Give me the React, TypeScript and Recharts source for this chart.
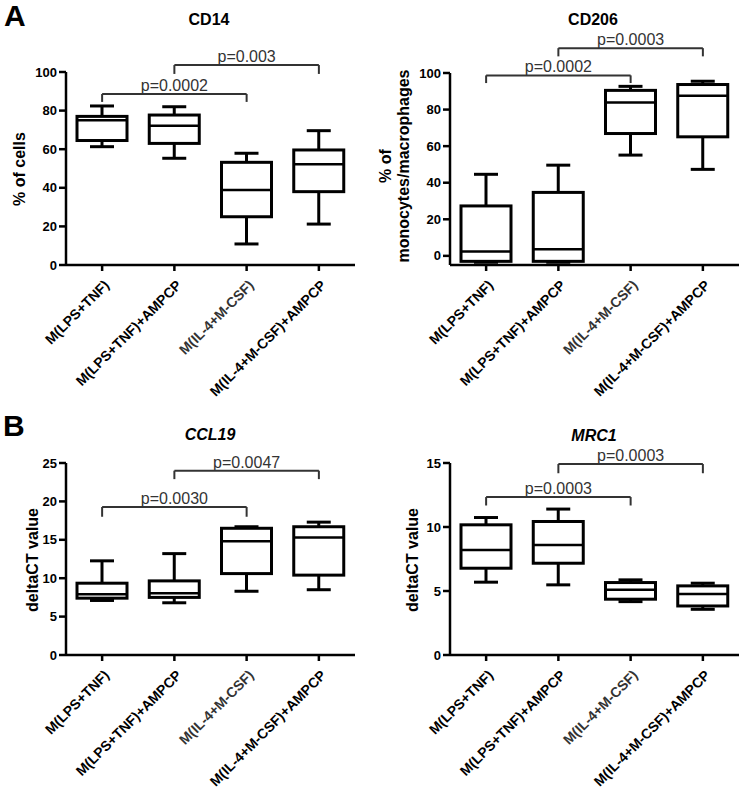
import React from "react";
import { ComposedChart, Bar, XAxis, YAxis, ReferenceLine } from "recharts";

const groups = ["M(LPS+TNF)", "M(LPS+TNF)+AMPCP", "M(IL-4+M-CSF)", "M(IL-4+M-CSF)+AMPCP"];

// CD14, % of cells
const cd14Min = [61.3, 55.3, 10.9, 21.2];
const cd14Q1 = [64.5, 63, 25, 38];
const cd14Med = [75, 72.2, 38.9, 52.2];
const cd14Q3 = [77, 77.7, 53.2, 59.6];
const cd14Max = [82.4, 82, 57.9, 69.6];

// CD206, % of monocytes/macrophages
const cd206Min = [-3.5, -3.5, 55.1, 47.3];
const cd206Q1 = [-3, -3, 66.9, 65.1];
const cd206Med = [2.4, 3.6, 83.8, 87.5];
const cd206Q3 = [27.3, 34.7, 90.5, 93.7];
const cd206Max = [44.6, 49.6, 92.7, 95.5];

// CCL19, deltaCT
const ccl19Min = [7.1, 6.8, 8.3, 8.5];
const ccl19Q1 = [7.4, 7.5, 10.6, 10.4];
const ccl19Med = [7.9, 8.05, 14.8, 15.3];
const ccl19Q3 = [9.35, 9.65, 16.5, 16.7];
const ccl19Max = [12.26, 13.2, 16.7, 17.3];

// MRC1, deltaCT
const mrc1Min = [5.69, 5.48, 4.17, 3.57];
const mrc1Q1 = [6.78, 7.17, 4.36, 3.83];
const mrc1Med = [8.2, 8.6, 5.09, 4.77];
const mrc1Q3 = [10.17, 10.43, 5.66, 5.4];
const mrc1Max = [10.74, 11.4, 5.87, 5.61];

// significance brackets: groups compared, bar height, leg end, label
const cd14Brackets = [
  { from: 0, to: 2, y: 88.6, leg: 84.5, text: "p=0.0002" },
  { from: 1, to: 3, y: 103.6, leg: 99, text: "p=0.003" },
];
const cd206Brackets = [
  { from: 0, to: 2, y: 98.7, leg: 94.5, text: "p=0.0002" },
  { from: 1, to: 3, y: 113.6, leg: 109.1, text: "p=0.0003" },
];
const ccl19Brackets = [
  { from: 0, to: 2, y: 19.27, leg: 18.0, text: "p=0.0030" },
  { from: 1, to: 3, y: 24.0, leg: 22.9, text: "p=0.0047" },
];
const mrc1Brackets = [
  { from: 0, to: 2, y: 12.34, leg: 11.68, text: "p=0.0003" },
  { from: 1, to: 3, y: 14.92, leg: 14.2, text: "p=0.0003" },
];

const FONT = "'Liberation Sans', Arial, sans-serif";

type Bracket = { from: number; to: number; y: number; leg: number; text: string };

function rows(min: number[], q1: number[], med: number[], q3: number[], max: number[]) {
  return groups.map((name, i) => ({
    name, min: min[i], q1: q1[i], med: med[i], q3: q3[i], max: max[i],
    range: [min[i], max[i]],
  }));
}

// whisker-to-whisker bar; inner marks placed along the bar's own pixel span
function BoxShape(props: any) {
  const { x, y, width, height, payload } = props;
  const top = Math.min(y, y + height), bot = Math.max(y, y + height);
  const span = payload.max - payload.min || 1;
  const py = (v: number) => bot - ((v - payload.min) / span) * (bot - top);
  const cx = x + width / 2;
  const cap = width * 0.24;
  const s = { stroke: "#000", strokeWidth: 3 };
  return (
    <g>
      <line x1={cx} x2={cx} y1={py(payload.max)} y2={py(payload.q3)} {...s} />
      <line x1={cx} x2={cx} y1={py(payload.q1)} y2={py(payload.min)} {...s} />
      <line x1={cx - cap} x2={cx + cap} y1={py(payload.max)} y2={py(payload.max)} {...s} />
      <line x1={cx - cap} x2={cx + cap} y1={py(payload.min)} y2={py(payload.min)} {...s} />
      <rect x={x} y={py(payload.q3)} width={width} height={py(payload.q1) - py(payload.q3)}
        fill="#fff" {...s} />
      <line x1={x} x2={x + width} y1={py(payload.med)} y2={py(payload.med)} stroke="#000" strokeWidth={2.5} />
    </g>
  );
}

function GroupTick({ x, y, payload, index }: any) {
  return (
    <g transform={`translate(${x + 1},${y + 6})`}>
      <text transform="rotate(-45)" textAnchor="end" dy="0.71em" fontSize={14}
        fontFamily={FONT} fontWeight="bold" fill={index === 2 ? "#333" : "#000"}>
        {payload.value}
      </text>
    </g>
  );
}

function Panel({ data, brackets, domain, ticks, yWidth, margin, width, height }: {
  data: any[]; brackets: Bracket[]; domain: [number, number]; ticks: number[];
  yWidth: number; margin: any; width: number; height: number;
}) {
  const line = { stroke: "#333", strokeWidth: 2 };
  return (
    <ComposedChart width={width} height={height} data={data} margin={margin}>
      <XAxis dataKey="name" type="category" height={120} interval={0} tick={<GroupTick />}
        axisLine={{ stroke: "#000", strokeWidth: 2.5 }} tickLine={{ stroke: "#000", strokeWidth: 2.5 }}
        tickSize={6} />
      <YAxis width={yWidth} domain={domain} ticks={ticks} allowDataOverflow
        axisLine={{ stroke: "#000", strokeWidth: 2.5 }} tickLine={{ stroke: "#000", strokeWidth: 2.5 }}
        tickSize={7} tickMargin={2}
        tick={{ fontSize: 13, fontWeight: "bold", fill: "#000", fontFamily: FONT }} />
      <Bar dataKey="range" barSize={50} shape={<BoxShape />} isAnimationActive={false} />
      {brackets.map((b, i) => (
        <React.Fragment key={i}>
          <ReferenceLine ifOverflow="visible" {...line}
            segment={[{ x: groups[b.from], y: b.y }, { x: groups[b.to], y: b.y }]}
            label={{ value: b.text, position: "top", offset: 3, fontSize: 16, fill: "#333", fontFamily: FONT }} />
          <ReferenceLine ifOverflow="visible" {...line}
            segment={[{ x: groups[b.from], y: b.y }, { x: groups[b.from], y: b.leg }]} />
          <ReferenceLine ifOverflow="visible" {...line}
            segment={[{ x: groups[b.to], y: b.y }, { x: groups[b.to], y: b.leg }]} />
        </React.Fragment>
      ))}
    </ComposedChart>
  );
}

const abs = (left: number, top: number): React.CSSProperties => ({ position: "absolute", left, top });

function Title({ x, y, text, italic }: { x: number; y: number; text: string; italic?: boolean }) {
  return (
    <div style={{ ...abs(x - 100, y - 10), width: 200, textAlign: "center", fontSize: 16,
      fontWeight: "bold", fontStyle: italic ? "italic" : "normal", lineHeight: "20px" }}>{text}</div>
  );
}

function YLabel({ x, y, lines }: { x: number; y: number; lines: string[] }) {
  return (
    <div style={{ ...abs(x - 150, y - lines.length * 9), width: 300, textAlign: "center",
      transform: "rotate(-90deg)", fontSize: 16, fontWeight: "bold", lineHeight: "18px" }}>
      {lines.map((l, i) => <div key={i}>{l}</div>)}
    </div>
  );
}

export default function App() {
  const cd14 = rows(cd14Min, cd14Q1, cd14Med, cd14Q3, cd14Max);
  const cd206 = rows(cd206Min, cd206Q1, cd206Med, cd206Q3, cd206Max);
  const ccl19 = rows(ccl19Min, ccl19Q1, ccl19Med, ccl19Q3, ccl19Max);
  const mrc1 = rows(mrc1Min, mrc1Q1, mrc1Med, mrc1Q3, mrc1Max);
  return (
    <div style={{ position: "absolute", left: 0, top: 0, width: 743, height: 789, background: "#fff",
      fontFamily: FONT, color: "#000", overflow: "hidden" }}>
      <div style={abs(0, 0)}>
        <Panel data={cd14} brackets={cd14Brackets} domain={[0, 100]} ticks={[0, 20, 40, 60, 80, 100]}
          yWidth={66} width={370} height={400} margin={{ top: 72, right: 15, bottom: 15, left: 0 }} />
      </div>
      <div style={abs(370, 0)}>
        <Panel data={cd206} brackets={cd206Brackets} domain={[-5, 100]} ticks={[0, 20, 40, 60, 80, 100]}
          yWidth={80} width={373} height={400} margin={{ top: 73, right: 4, bottom: 15, left: 0 }} />
      </div>
      <div style={abs(0, 400)}>
        <Panel data={ccl19} brackets={ccl19Brackets} domain={[0, 25]} ticks={[0, 5, 10, 15, 20, 25]}
          yWidth={66} width={370} height={389} margin={{ top: 63, right: 15, bottom: 14, left: 0 }} />
      </div>
      <div style={abs(370, 400)}>
        <Panel data={mrc1} brackets={mrc1Brackets} domain={[0, 15]} ticks={[0, 5, 10, 15]}
          yWidth={80} width={373} height={389} margin={{ top: 63, right: 4, bottom: 14, left: 0 }} />
      </div>

      <div style={{ ...abs(4, 1), fontSize: 30, lineHeight: "30px", fontWeight: "bold" }}>A</div>
      <div style={{ ...abs(3, 411), fontSize: 30, lineHeight: "30px", fontWeight: "bold" }}>B</div>

      <Title x={209} y={20} text="CD14" />
      <Title x={593} y={20} text="CD206" />
      <Title x={210} y={435} text="CCL19" italic />
      <Title x={594} y={436} text="MRC1" italic />

      <YLabel x={20} y={169} lines={["% of cells"]} />
      <YLabel x={395} y={166} lines={["% of", "monocytes/macrophages"]} />
      <YLabel x={33} y={560} lines={["deltaCT value"]} />
      <YLabel x={413} y={560} lines={["deltaCT value"]} />
    </div>
  );
}
